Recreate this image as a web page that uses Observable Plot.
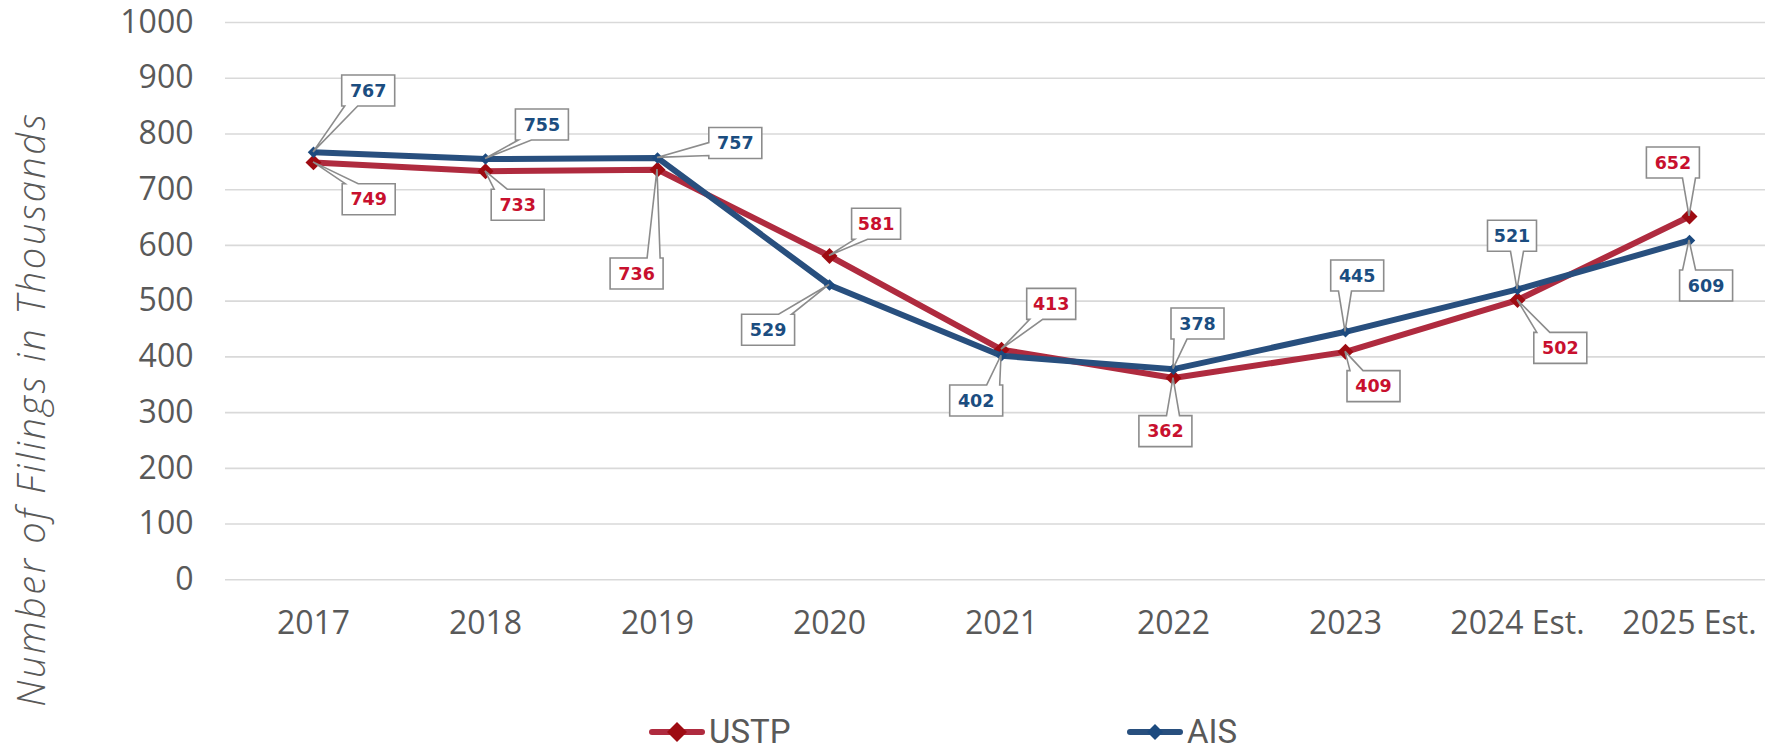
<!DOCTYPE html>
<html>
<head>
<meta charset="utf-8">
<script src="https://cdn.jsdelivr.net/npm/d3@7"></script>
<script src="https://cdn.jsdelivr.net/npm/@observablehq/plot@0.6"></script>
<style>
  body { margin: 0; background: #ffffff; }
  #wrap { position: relative; width: 1765px; height: 754px; overflow: hidden; background: #fff; }
  .leg { position: absolute; top: 715px; display: flex; align-items: center; height: 34px;
         font-family: Roboto, "Open Sans", sans-serif; font-size: 33px; line-height: 34px; color: #595959; }
  .leg svg { display: block; margin-right: 4px; }
</style>
</head>
<body>
<div id="wrap"></div>
<script>
// ---- data ----
const years = ["2017", "2018", "2019", "2020", "2021", "2022", "2023", "2024 Est.", "2025 Est."];
const ustp  = [749, 733, 736, 581, 413, 362, 409, 502, 652];
const ais   = [767, 755, 757, 529, 402, 378, 445, 521, 609];
const yTicks = [0, 100, 200, 300, 400, 500, 600, 700, 800, 900, 1000];
const seriesNames = ["USTP", "AIS"];
const yTitle = "Number of Filings in Thousands";

// ---- callout placement (pixel offset of box centre from point, side where the pointer attaches) ----
const ustpCallout = [[55.7, 37.3, "top"], [32.7, 33.9, "top"], [-20.4, 104.3, "top"], [47.1, -31.7, "bottom"],
  [50.2, -45.3, "bottom"], [-7.6, 53.6, "top"], [28.5, 34.8, "top"], [43.3, 48.3, "top"], [-16.1, -53.4, "bottom"]];
const aisCallout = [[55.2, -61.4, "bottom"], [56.9, -34.1, "bottom"], [78.3, -14.4, "left"], [-60.9, 45.3, "top"],
  [-24.8, 45.2, "top"], [24.5, -45.1, "bottom"], [12.2, -55.8, "bottom"], [-5, -53.2, "bottom"], [17.1, 45.6, "top"]];

// ---- styles ----
const C = {
  ustpLine: "#AF2B3F", ustpMark: "#9E0B12", ustpText: "#C8102E",
  aisLine: "#284F7E", aisMark: "#1C4A7F", aisText: "#1B4D80",
  grid: "#D9D9D9", axis: "#595959", box: "#8C8C8C"
};

const rows = [];
years.forEach((y, i) => rows.push({year: y, series: "USTP", value: ustp[i]}));
years.forEach((y, i) => rows.push({year: y, series: "AIS", value: ais[i]}));
const ustpRows = rows.filter(d => d.series === "USTP");
const aisRows = rows.filter(d => d.series === "AIS");

const callouts = [
  ...ustpRows.map((d, i) => ({...d, dx: ustpCallout[i][0], dy: ustpCallout[i][1], side: ustpCallout[i][2], color: C.ustpText})),
  ...aisRows.map((d, i) => ({...d, dx: aisCallout[i][0], dy: aisCallout[i][1], side: aisCallout[i][2], color: C.aisText}))
];

function calloutMark(index, scales, values, dimensions, context) {
  const g = d3.create("svg:g");
  const H = 31, hb = 6.5;
  for (const d of callouts) {
    const px = scales.x(d.year), py = scales.y(d.value);
    const cx = px + d.dx, cy = py + d.dy;
    const ones = String(d.value).split("").filter(c => c === "1").length;
    const W = 53 - 4 * ones;
    const L = cx - W / 2, R = cx + W / 2, T = cy - H / 2, B = cy + H / 2;
    const clamp = (v, a, b) => Math.max(a, Math.min(b, v));
    let p;
    if (d.side === "bottom") {
      const bc = clamp(px, L + hb + 3, R - hb - 3);
      p = [[L, T], [R, T], [R, B], [bc + hb, B], [px, py], [bc - hb, B], [L, B]];
    } else if (d.side === "top") {
      const bc = clamp(px, L + hb + 3, R - hb - 3);
      p = [[L, T], [bc - hb, T], [px, py], [bc + hb, T], [R, T], [R, B], [L, B]];
    } else if (d.side === "left") {
      const bc = clamp(py, T + hb + 3, B - hb - 3);
      p = [[L, T], [R, T], [R, B], [L, B], [L, bc + hb], [px, py], [L, bc - hb]];
    } else {
      const bc = clamp(py, T + hb + 3, B - hb - 3);
      p = [[L, T], [R, T], [R, bc - hb], [px, py], [R, bc + hb], [R, B], [L, B]];
    }
    g.append("path")
      .attr("d", "M" + p.map(q => q.join(",")).join("L") + "Z")
      .attr("fill", "#ffffff").attr("stroke", C.box).attr("stroke-width", 1.6)
      .attr("stroke-linejoin", "miter");
    g.append("text")
      .attr("x", cx).attr("y", cy).attr("dy", "0.36em")
      .attr("text-anchor", "middle")
      .attr("font-family", "'DejaVu Sans', sans-serif").attr("font-weight", "bold")
      .attr("font-size", 17.5).attr("fill", d.color)
      .text(d.value);
  }
  return g.node();
}

const chart = Plot.plot({
  width: 1765,
  height: 712,
  marginLeft: 225,
  marginRight: 0,
  marginTop: 22,
  marginBottom: 132.7,
  style: {fontFamily: "'Open Sans', sans-serif", background: "#fff", overflow: "visible"},
  x: {type: "point", domain: years, range: [310.3, 1691.9], padding: 0},
  y: {domain: [0, 1000]},
  marks: [
    Plot.gridY(yTicks, {stroke: C.grid, strokeOpacity: 1, strokeWidth: 1.6}),
    Plot.axisY(yTicks, {tickSize: 0, tickPadding: 32, fontSize: 32, fill: C.axis, label: null, tickFormat: d => String(d)}),
    Plot.axisX({tickSize: 0, tickPadding: 31, fontSize: 32, fill: C.axis, label: null}),
    Plot.text([yTitle], {text: d => d, frameAnchor: "left", textAnchor: "middle", lineAnchor: "middle",
      rotate: -90, dx: -193, dy: 108,
      fontSize: 38, fontStyle: "italic", fontWeight: 300, fill: C.axis, fontFamily: "'Open Sans', sans-serif"}),
    Plot.line(ustpRows, {x: "year", y: "value", stroke: C.ustpLine, strokeWidth: 6, strokeLinejoin: "round", strokeLinecap: "round"}),
    Plot.dot(ustpRows, {x: "year", y: "value", symbol: "diamond2", r: 7.2, fill: C.ustpMark, stroke: "none"}),
    Plot.line(aisRows, {x: "year", y: "value", stroke: C.aisLine, strokeWidth: 6, strokeLinejoin: "round", strokeLinecap: "round"}),
    Plot.dot(aisRows, {x: "year", y: "value", symbol: "diamond2", r: 5.2, fill: C.aisMark, stroke: "none"}),
    calloutMark
  ]
});

// widen the axis title to match the reference's wide typeface
d3.select(chart).selectAll("text")
  .filter(function () { return this.textContent === yTitle; })
  .style("letter-spacing", "2.6px");

const wrap = document.getElementById("wrap");
wrap.appendChild(chart);

// ---- legend ----
function legendItem(name, line, mark, size, left) {
  const div = document.createElement("div");
  div.className = "leg";
  div.style.left = left + "px";
  const s = size;
  div.innerHTML = `<svg width="56" height="24" viewBox="0 0 56 24">
    <line x1="3" y1="12" x2="53" y2="12" stroke="${line}" stroke-width="6" stroke-linecap="round"/>
    <path d="M28,${12 - s}L${28 + s},12L28,${12 + s}L${28 - s},12Z" fill="${mark}"/>
  </svg><span>${name}</span>`;
  wrap.appendChild(div);
}
legendItem(seriesNames[0], C.ustpLine, C.ustpMark, 10, 649);
legendItem(seriesNames[1], C.aisLine, C.aisMark, 8, 1127);
</script>
</body>
</html>
